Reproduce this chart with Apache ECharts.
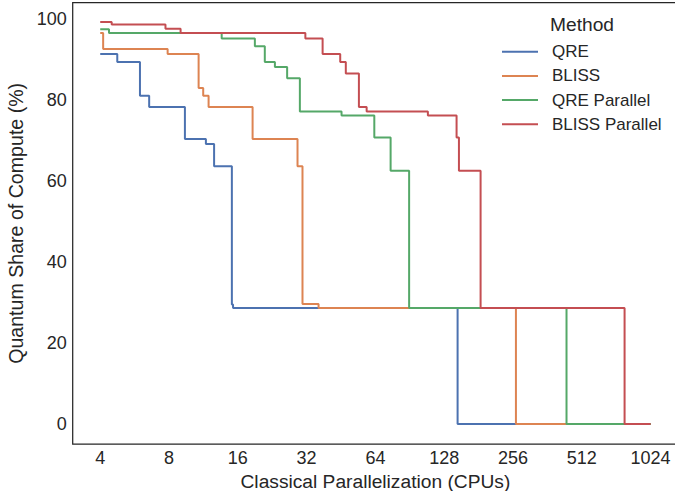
<!DOCTYPE html>
<html>
<head>
<meta charset="utf-8">
<script src="https://cdn.jsdelivr.net/npm/echarts@6/dist/echarts.min.js"></script>
<style>
html,body{margin:0;padding:0;background:#fff;}
#c{width:675px;height:491px;}
</style>
</head>
<body>
<div id="c"></div>
<script>
// Data (step-post: each point holds value from its x until the next x)
const methods = ['QRE', 'BLISS', 'QRE Parallel', 'BLISS Parallel'];
const colors = ['#4C72B0', '#DD8452', '#55A868', '#C44E52'];

const qreX = [4, 4.75, 5.97, 6.55, 9.39, 11.6, 12.6, 15.07, 15.25, 146.5, 1024];
const qreY = [91.3, 89.3, 81.0, 78.2, 70.3, 69.1, 63.6, 29.5, 28.6, 0, 0];

const blissX = [4, 4.12, 7.89, 10.78, 11.29, 11.92, 18.57, 29.2, 30.7, 36.1, 263.7, 1024];
const blissY = [96.5, 92.5, 91.3, 82.9, 81.0, 78.2, 70.3, 63.6, 29.6, 28.6, 0, 0];

const qrePX = [4, 4.37, 13.6, 19.0, 21.0, 23.25, 26.3, 29.9, 45.5, 63.3, 74.6, 89.9, 439, 1024];
const qrePY = [97.4, 96.5, 95.1, 93.2, 89.3, 88.1, 85.3, 77.1, 76.1, 70.7, 62.5, 28.6, 0, 0];

const blissPX = [4, 4.49, 7.72, 8.99, 31.6, 37.6, 44.9, 47.5, 54.2, 58.6, 108.6, 145, 148.5, 184.7, 788, 1024];
const blissPY = [99.2, 98.6, 97.5, 96.5, 95.1, 91.3, 89.3, 86.5, 78.2, 77.1, 76.1, 70.7, 62.5, 28.6, 0, 0];

const xTicks = [4, 8, 16, 32, 64, 128, 256, 512, 1024];
const yTicks = [0, 20, 40, 60, 80, 100];

const seriesX = [qreX, blissX, qrePX, blissPX];
const seriesY = [qreY, blissY, qrePY, blissPY];

const FONT = "'Liberation Sans', Arial, sans-serif";
const TXT = '#262626';

const chart = echarts.init(document.getElementById('c'), null, {renderer: 'svg'});
chart.setOption({
  animation: false,
  backgroundColor: '#fff',
  textStyle: {fontFamily: FONT, color: TXT},
  grid: {
    left: 72.7, top: 2.7, width: 605.4, height: 441.3,
    outerBoundsMode: 'none', containLabel: false,
    show: true, borderColor: '#262626', borderWidth: 1.25, backgroundColor: '#fff'
  },
  xAxis: {
    type: 'log', logBase: 2,
    min: Math.pow(2, 1.6), max: Math.pow(2, 10.4),
    name: 'Classical Parallelization (CPUs)',
    nameLocation: 'middle', nameGap: 24,
    nameTextStyle: {fontSize: 19.2, lineHeight: 20, color: TXT, fontFamily: FONT},
    axisLine: {show: false},
    axisTick: {show: false},
    splitLine: {show: false},
    minorTick: {show: false},
    axisLabel: {
      customValues: xTicks,
      fontSize: 18, color: TXT, fontFamily: FONT, margin: 5,
      formatter: v => String(Math.round(v))
    }
  },
  yAxis: {
    type: 'value',
    min: -4.95, max: 103.95,
    name: 'Quantum Share of Compute (%)',
    nameLocation: 'middle', nameGap: 42,
    nameTextStyle: {fontSize: 19.6, lineHeight: 20, color: TXT, fontFamily: FONT},
    axisLine: {show: false},
    axisTick: {show: false},
    splitLine: {show: false},
    axisLabel: {
      customValues: yTicks,
      fontSize: 18, color: TXT, fontFamily: FONT, margin: 6
    }
  },
  legend: {
    orient: 'vertical',
    left: 502, top: 43.2, padding: 0,
    itemWidth: 36, itemHeight: 2, itemGap: 7.2,
    icon: 'rect',
    textStyle: {fontSize: 17, color: TXT, fontFamily: FONT, lineHeight: 17, padding: [0, 0, 0, 9]},
    data: methods
  },
  graphic: [{
    type: 'text', left: 550, top: 15,
    style: {text: 'Method', fontSize: 19.2, fill: TXT, fontFamily: FONT}
  }],
  series: methods.map((m, i) => ({
    name: m,
    type: 'line',
    step: 'end',
    symbol: 'none',
    color: colors[i],
    lineStyle: {width: 2, color: colors[i]},
    data: seriesX[i].map((x, j) => [x, seriesY[i][j]])
  }))
});
</script>
</body>
</html>
